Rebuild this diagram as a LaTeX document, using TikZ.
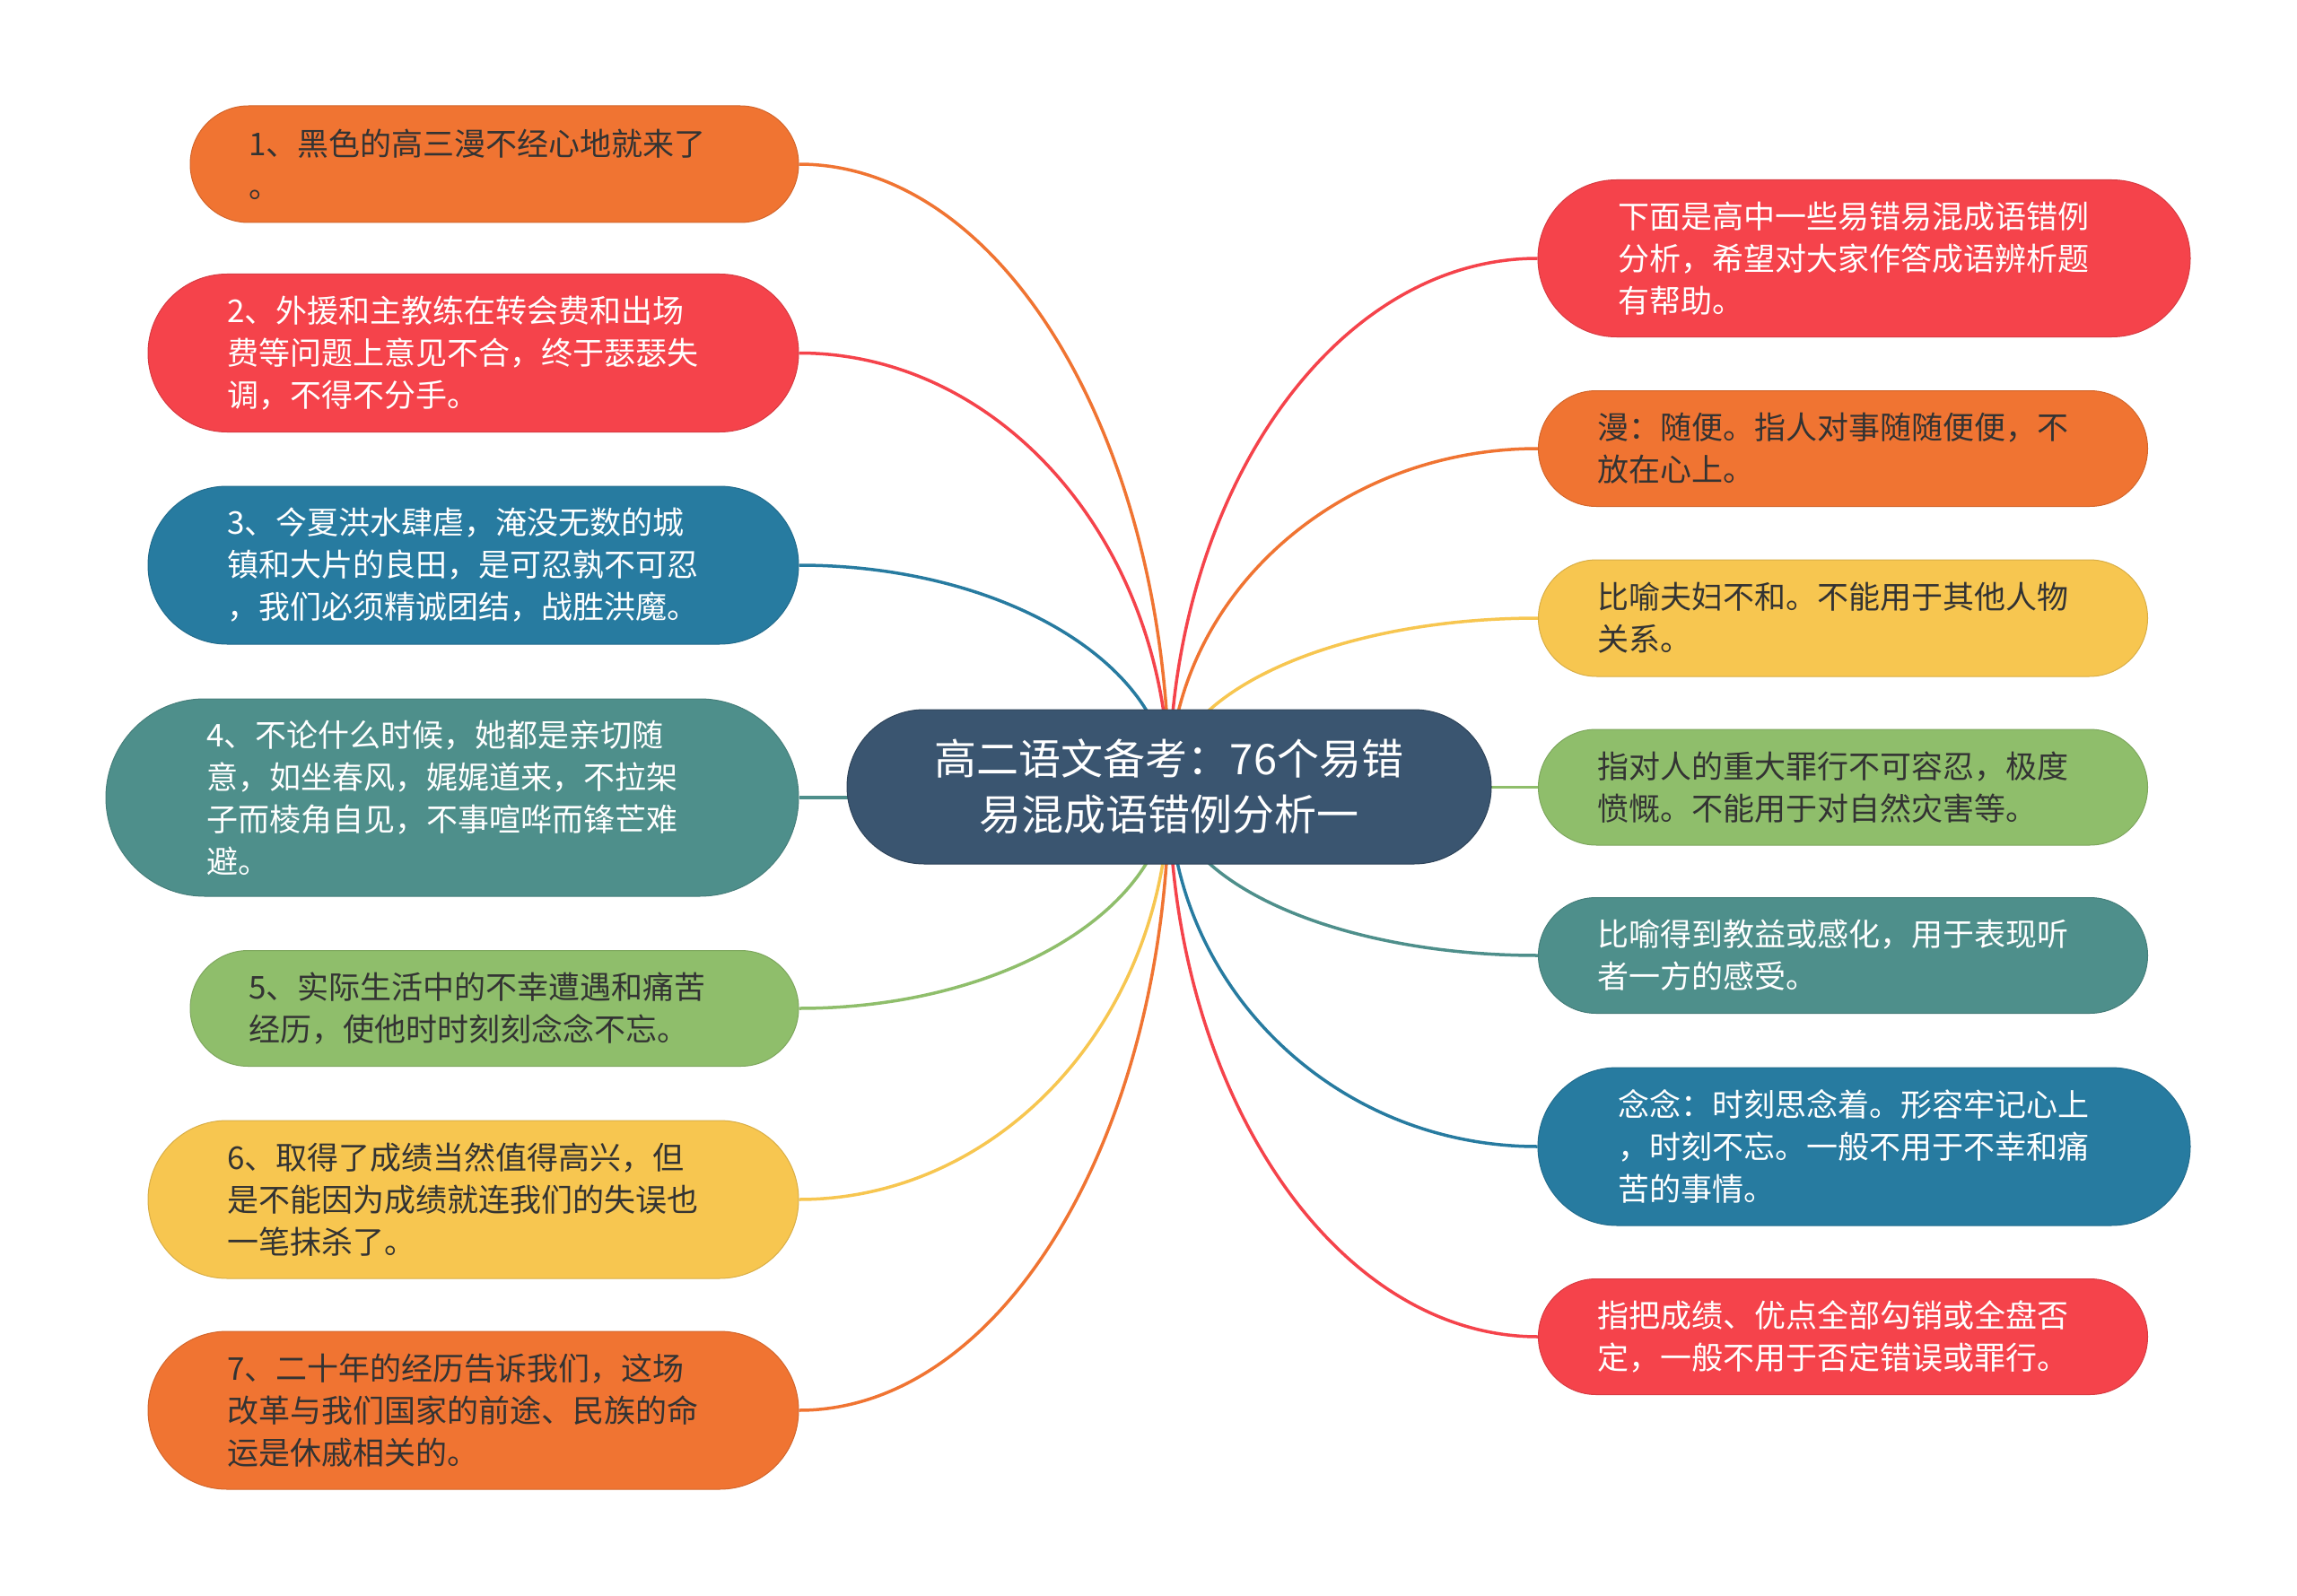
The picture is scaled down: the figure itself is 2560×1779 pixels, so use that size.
\documentclass[tikz,border=0pt]{standalone}
\usepackage{fontspec}
\setmainfont{Noto Sans CJK SC}
\pgfdeclarelayer{bg}
\pgfdeclarelayer{paper}
\pgfsetlayers{paper,bg,main}
\definecolor{corange}{HTML}{F07432}
\definecolor{cred}{HTML}{F5434B}
\definecolor{cblue}{HTML}{277BA0}
\definecolor{cteal}{HTML}{4E8F8B}
\definecolor{cgreen}{HTML}{8FBE6B}
\definecolor{cyellow}{HTML}{F7C650}
\definecolor{chub}{HTML}{3A5570}
\definecolor{cdark}{HTML}{333333}
\tikzset{
  kid/.style n args={4}{fill=#1, draw=#1!88!black, line width=1pt, text=#2,
    minimum width=#3, minimum height=#4, rounded corners=#4/2,
    inner sep=0pt, text width=548pt, align=left,
    font=\fontsize{35pt}{47pt}\selectfont},
  hub/.style={fill=chub, draw=chub!80!black, line width=1pt, text=white,
    minimum width=718pt, minimum height=172pt, rounded corners=86pt,
    inner sep=0pt, text width=640pt, align=center,
    font=\fontsize{47pt}{62pt}\selectfont},
  conn/.style={draw=#1, line width=3.5pt}
}
\begin{document}
\begin{tikzpicture}[x=1pt,y=-1pt]
\begin{pgfonlayer}{paper}
\fill[white] (0,0) rectangle (2560,1779);
\end{pgfonlayer}
\useasboundingbox (0,0) rectangle (2560,1779);

\node[hub] (ctr) at (1303,877) {高二语文备考：76个易错\\易混成语错例分析一};

% left
\node[kid={corange}{cdark}{678pt}{130pt}] (n1) at (551,183) {1、黑色的高三漫不经心地就来了\\。};
\node[kid={cred}{white}{725pt}{176pt}] (n2) at (527.5,393.5) {2、外援和主教练在转会费和出场\\费等问题上意见不合，终于瑟瑟失\\调，不得不分手。};
\node[kid={cblue}{white}{725pt}{176pt}] (n3) at (527.5,630) {3、今夏洪水肆虐，淹没无数的城\\镇和大片的良田，是可忍孰不可忍\\，我们必须精诚团结，战胜洪魔。};
\node[kid={cteal}{white}{772pt}{220pt}] (n4) at (504,889) {4、不论什么时候，她都是亲切随\\意，如坐春风，娓娓道来，不拉架\\子而棱角自见，不事喧哗而锋芒难\\避。};
\node[kid={cgreen}{cdark}{678pt}{129pt}] (n5) at (551,1124) {5、实际生活中的不幸遭遇和痛苦\\经历，使他时时刻刻念念不忘。};
\node[kid={cyellow}{cdark}{725pt}{176pt}] (n6) at (527.5,1337) {6、取得了成绩当然值得高兴，但\\是不能因为成绩就连我们的失误也\\一笔抹杀了。};
\node[kid={corange}{cdark}{725pt}{176pt}] (n7) at (527.5,1572) {7、二十年的经历告诉我们，这场\\改革与我们国家的前途、民族的命\\运是休戚相关的。};

% right
\node[kid={cred}{white}{727pt}{175pt}] (r1) at (2077.5,288) {下面是高中一些易错易混成语错例\\分析，希望对大家作答成语辨析题\\有帮助。};
\node[kid={corange}{cdark}{679pt}{129pt}] (r2) at (2054,500) {漫：随便。指人对事随随便便，不\\放在心上。};
\node[kid={cyellow}{cdark}{679pt}{130pt}] (r3) at (2054,689) {比喻夫妇不和。不能用于其他人物\\关系。};
\node[kid={cgreen}{cdark}{679pt}{129pt}] (r4) at (2054,877.5) {指对人的重大罪行不可容忍，极度\\愤慨。不能用于对自然灾害等。};
\node[kid={cteal}{white}{679pt}{129pt}] (r5) at (2054,1065) {比喻得到教益或感化，用于表现听\\者一方的感受。};
\node[kid={cblue}{white}{727pt}{176pt}] (r6) at (2077.5,1278) {念念：时刻思念着。形容牢记心上\\，时刻不忘。一般不用于不幸和痛\\苦的事情。};
\node[kid={cred}{white}{679pt}{129pt}] (r7) at (2054,1490) {指把成绩、优点全部勾销或全盘否\\定，一般不用于否定错误或罪行。};

\begin{pgfonlayer}{bg}
\draw[conn=corange] (n1.east) .. controls +(228,0) and +(0,-383) .. (ctr.center);
\draw[conn=cred] (n2.east) .. controls +(228,0) and +(0,-267) .. (ctr.center);
\draw[conn=cblue] (n3.east) .. controls +(228,0) and +(0,-136) .. (ctr.center);
\draw[conn=cteal] (n4.east) -- (ctr.center |- n4.east);
\draw[conn=cgreen] (n5.east) .. controls +(228,0) and +(0,136) .. (ctr.center);
\draw[conn=cyellow] (n6.east) .. controls +(228,0) and +(0,254) .. (ctr.center);
\draw[conn=corange] (n7.east) .. controls +(228,0) and +(0,384) .. (ctr.center);

\draw[conn=cred] (r1.west) .. controls +(-227,0) and +(0,-325) .. (ctr.center);
\draw[conn=corange] (r2.west) .. controls +(-227,0) and +(0,-208) .. (ctr.center);
\draw[conn=cyellow] (r3.west) .. controls +(-227,0) and +(0,-104) .. (ctr.center);
\draw[conn=cgreen] (r4.west) -- (ctr.center |- r4.west);
\draw[conn=cteal] (r5.west) .. controls +(-227,0) and +(0,104) .. (ctr.center);
\draw[conn=cblue] (r6.west) .. controls +(-227,0) and +(0,221) .. (ctr.center);
\draw[conn=cred] (r7.west) .. controls +(-227,0) and +(0,338) .. (ctr.center);
\end{pgfonlayer}
\end{tikzpicture}
\end{document}
